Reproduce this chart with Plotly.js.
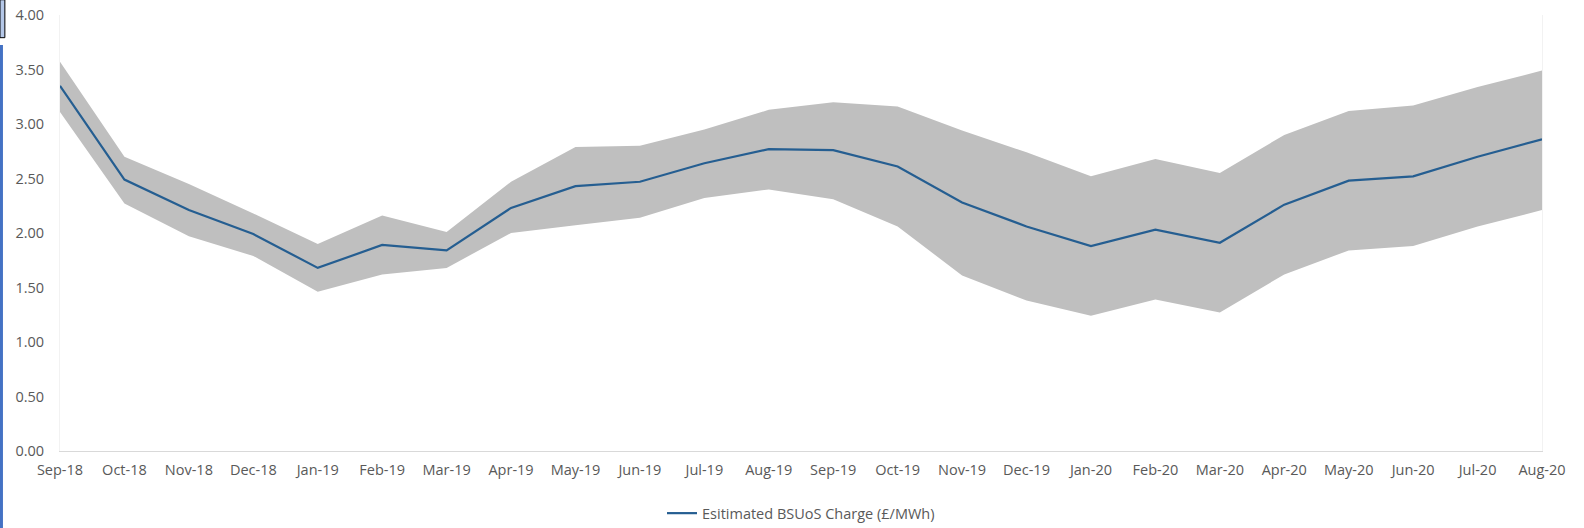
<!DOCTYPE html>
<html>
<head>
<meta charset="utf-8">
<script src="https://cdn.plot.ly/plotly-3.0.1.min.js"></script>
<style>html,body{margin:0;padding:0;background:#fff;}#chart{width:1584px;height:528px;}</style>
</head>
<body>
<div id="chart"></div>
<script>
const months = ["Sep-18","Oct-18","Nov-18","Dec-18","Jan-19","Feb-19","Mar-19","Apr-19","May-19","Jun-19","Jul-19","Aug-19","Sep-19","Oct-19","Nov-19","Dec-19","Jan-20","Feb-20","Mar-20","Apr-20","May-20","Jun-20","Jul-20","Aug-20"];
const estimate = [3.35,2.49,2.21,1.99,1.68,1.89,1.84,2.23,2.43,2.47,2.64,2.77,2.76,2.61,2.28,2.06,1.88,2.03,1.91,2.26,2.48,2.52,2.70,2.86];
const upperBound = [3.57,2.70,2.45,2.18,1.90,2.16,2.01,2.47,2.79,2.80,2.95,3.13,3.20,3.16,2.94,2.74,2.52,2.68,2.55,2.90,3.12,3.17,3.34,3.49];
const lowerBound = [3.11,2.27,1.97,1.79,1.46,1.62,1.68,2.00,2.07,2.14,2.32,2.40,2.31,2.06,1.61,1.38,1.24,1.39,1.27,1.62,1.84,1.88,2.06,2.21];
const yTicks = [0,0.5,1,1.5,2,2.5,3,3.5,4];
const yTickText = ["0.00","0.50","1.00","1.50","2.00","2.50","3.00","3.50","4.00"];
const seriesName = "Esitimated BSUoS Charge (£/MWh)";

const font = {family: "Open Sans, Noto Sans, sans-serif", size: 14.5, color: "#595959"};

const traces = [
  {x: months, y: lowerBound, type: "scatter", mode: "lines", line: {width: 0, color: "rgba(0,0,0,0)"}, showlegend: false, hoverinfo: "skip"},
  {x: months, y: upperBound, type: "scatter", mode: "lines", line: {width: 0, color: "rgba(0,0,0,0)"}, fill: "tonexty", fillcolor: "#BFBFBF", showlegend: false, hoverinfo: "skip"},
  {x: months, y: estimate, type: "scatter", mode: "lines", name: seriesName, line: {color: "#255E91", width: 2.2}}
];

const layout = {
  width: 1584, height: 528,
  margin: {l: 60, r: 42, t: 15, b: 77},
  paper_bgcolor: "#ffffff", plot_bgcolor: "#ffffff",
  font: font,
  showlegend: true,
  legend: {orientation: "h", xref: "paper", x: 0.5, xanchor: "center", yref: "container", y: 0.028, yanchor: "middle", font: font, itemwidth: 30},
  xaxis: {type: "category", range: [0, months.length - 1], showgrid: false, zeroline: false,
          showline: true, linecolor: "#D9D9D9", linewidth: 1, mirror: false,
          ticks: "", tickfont: font, tickangle: 0, ticklabelstandoff: 6, automargin: false, fixedrange: true},
  yaxis: {range: [0, 4], tickvals: yTicks, ticktext: yTickText, showgrid: false, zeroline: false,
          showline: true, linecolor: "#F2F2F2", mirror: true, ticks: "", ticklen: 0,
          ticklabelstandoff: 12, tickfont: font, automargin: false, fixedrange: true},
  shapes: [
    {type: "line", xref: "paper", yref: "paper", x0: -0.0395, x1: -0.0395, y0: -0.18, y1: 0.931, line: {color: "#4472C4", width: 3}},
    {type: "rect", xref: "paper", yref: "paper", x0: -0.0405, x1: -0.0372, y0: 0.948, y1: 1.035, fillcolor: "#B4C7E7", line: {color: "#000000", width: 1}}
  ]
};

Plotly.newPlot("chart", traces, layout, {displayModeBar: false, staticPlot: true});
</script>
</body>
</html>
